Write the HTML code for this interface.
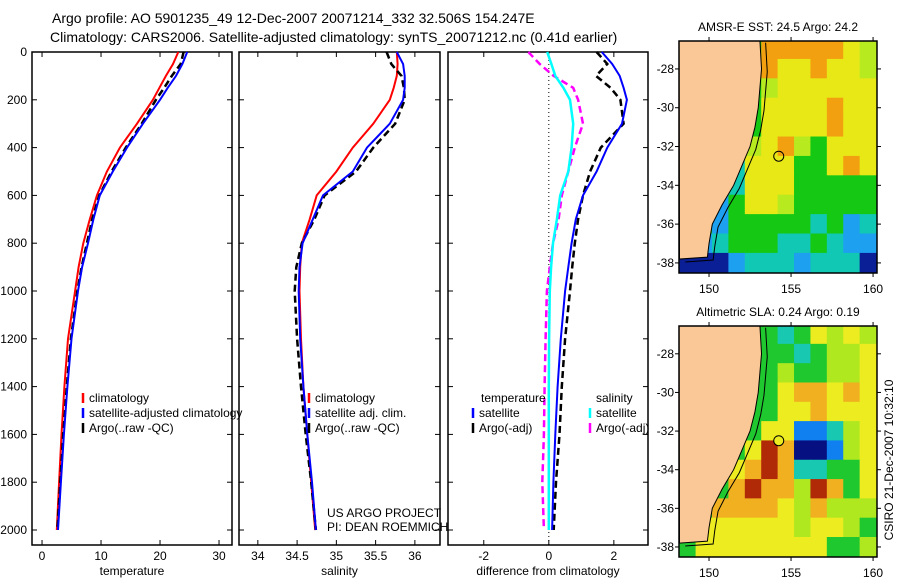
<!DOCTYPE html>
<html><head><meta charset="utf-8"><style>
body{margin:0;background:#fff}
svg{display:block;font-family:"Liberation Sans",sans-serif}
</style></head><body>
<svg id="fig" width="900" height="580" xmlns="http://www.w3.org/2000/svg">
<text x="52" y="23" font-size="14">Argo profile: AO 5901235_49 12-Dec-2007 20071214_332 32.506S 154.247E</text>
<text x="50" y="42" font-size="14">Climatology: CARS2006. Satellite-adjusted climatology: synTS_20071212.nc (0.41d earlier)</text>
<g id="plots"></g>
</svg>
<script>
// ---- data ----
const depths = [0,50,100,150,200,300,400,500,600,700,800,900,1000,1200,1400,1600,1800,2000];
const tempClim = [23.1,22.2,21.0,19.9,18.8,16.1,13.2,11.0,9.3,8.1,7.0,6.2,5.6,4.4,3.8,3.3,2.9,2.5];
const tempSat  = [24.6,23.8,22.7,21.3,20.0,17.1,14.4,12.0,9.8,8.7,7.8,6.8,6.1,5.0,4.3,3.7,3.2,2.7];
const tempArgo = [24.0,23.5,22.0,20.7,19.3,16.9,14.2,11.8,9.7,8.5,7.6,6.7,6.0,4.9,4.2,3.6,3.1,2.6];
const salClim = [35.77,35.78,35.77,35.73,35.68,35.47,35.21,35.0,34.75,34.66,34.56,34.54,34.53,34.55,34.58,34.63,34.68,34.73];
const salSat  = [35.77,35.85,35.87,35.87,35.85,35.68,35.39,35.21,34.83,34.70,34.57,34.53,34.52,34.54,34.58,34.63,34.69,34.74];
const salArgo = [35.64,35.70,35.83,35.86,35.87,35.75,35.47,35.25,34.85,34.72,34.56,34.49,34.47,34.50,34.55,34.61,34.68,34.74];
const dTempSat  = [1.63,1.95,2.18,2.3,2.4,2.25,1.8,1.47,1.05,0.83,0.7,0.6,0.5,0.37,0.27,0.2,0.14,0.1];
const dTempArgo = [1.47,1.8,1.45,1.9,2.2,2.3,1.6,1.27,1.05,0.9,0.8,0.72,0.65,0.5,0.4,0.33,0.22,0.15];
const dSalSat   = [-0.05,0.08,0.2,0.45,0.65,0.75,0.7,0.6,0.35,0.25,0.13,0.07,0.03,0.01,0,0,0,0];
const dSalArgo  = [-0.63,-0.28,0.15,0.75,0.9,1.05,0.8,0.6,0.4,0.3,0.13,0.03,-0.06,-0.1,-0.13,-0.15,-0.2,-0.15];
const depthTicks = [0,200,400,600,800,1000,1200,1400,1600,1800,2000];
const tempTicks = [0,10,20,30];
const salTicks = [34,34.5,35,35.5,36];
const salTickLabels = ["34","34.5","35","35.5","36"];
const diffTicks = [-2,0,2];
const lonTicks = [150,155,160];
const latTicks = [-28,-30,-32,-34,-36,-38];
// map grids (rows lat -26.5..-38.5, cols lon 148.2..160.2, 1 deg cells)
const sstGrid = ["gggggoooooyl","gggggoyyoyyl","ggggglyyyyyy","gggggyyyyoyy","gggggyyyyoyy","gggglyolgyyy","gggtyyyggyoy","gggtyyyggggg","ggbgyylggggg","ggbgggggtgbt","gbtgggttgtbb","nnnbtttbtttn"];
const slaGrid = ["ggggggtgylyl","gggggggtglly","gggggglgglly","ggggggyooyoy","ggggggyyoyyy","gggggyybbtly","ggggyronnbly","gggyorottggy","gggoroolrogy","ggooooylolll","gyyyyyylyylg","gyyyyyyyyggl"];
const sstColors = {o:"#f2a010",y:"#e8e817",l:"#b8ea20",g:"#14c814",t:"#10c8b4",b:"#1ea0f0",n:"#0a1e96"};
const slaColors = {o:"#f0b020",y:"#ecec20",l:"#b0e820",g:"#20c830",t:"#18c8b0",b:"#1080f0",n:"#061080",r:"#b02a08"};
const coast = [[153.1,-26.5],[153.2,-28],[153.1,-29],[153.0,-30],[152.8,-31],[152.5,-32],[152.0,-33],[151.5,-34],[150.8,-35],[150.2,-36],[150.0,-37],[149.9,-37.7],[148.2,-37.8]];
const argoPos = [154.25,-32.5];

const NS="http://www.w3.org/2000/svg";
const root=document.getElementById('plots');
function mk(tag,attrs,parent){const e=document.createElementNS(NS,tag);for(const k in attrs)e.setAttribute(k,attrs[k]);(parent||root).appendChild(e);return e;}
function txt(x,y,s,size,anchor,parent){const t=mk('text',{x:x,y:y,'font-size':size||12,'text-anchor':anchor||'start'},parent);t.textContent=s;return t;}

const yTop=52, yBot=545, dPx=0.239;
function yD(d){return yTop+d*dPx;}

function panel(name,x0,x1,xmin,xmax,ticks,labels,xlabel){
  const g=mk('g',{});
  
  
  const sx=v=>x0+(v-xmin)/(xmax-xmin)*(x1-x0);
  const fr=mk('rect',{x:x0,y:yTop,width:x1-x0,height:yBot-yTop,fill:'none',stroke:'#000','stroke-width':1.5},g);
  
  
  depthTicks.forEach(d=>{mk('line',{x1:x0,x2:x0+5,y1:yD(d),y2:yD(d),stroke:'#000'},g);mk('line',{x1:x1,x2:x1-5,y1:yD(d),y2:yD(d),stroke:'#000'},g);});
  ticks.forEach((t,i)=>{const x=sx(t);mk('line',{x1:x,x2:x,y1:yTop,y2:yTop+5,stroke:'#000'},g);mk('line',{x1:x,x2:x,y1:yBot,y2:yBot-5,stroke:'#000'},g);
    const l=txt(x,560,labels[i],12,'middle',g);});
  const xl=txt((x0+x1)/2,575,xlabel,12,'middle',g);
  
  
  return {g,sx};
}
function series(p,vals,color,name,dash,w){
  const pts=vals.map((v,i)=>p.sx(v).toFixed(1)+','+yD(depths[i]).toFixed(1)).join(' ');
  const pl=mk('polyline',{points:pts,fill:'none',stroke:color,'stroke-width':w||2,'stroke-dasharray':dash||'none'},p.g);
  
  
}
function legend(p,x,y,color,label,dash){
  mk('line',{x1:x,x2:x,y1:y-9,y2:y+1,stroke:color,'stroke-width':2.5},p.g);
  const t=txt(x+6,y,label,12,'start',p.g);
  
  
}

depthTicks.forEach(d=>{const t=txt(27,yD(d)+4,String(d),12,'end');
  
  });

const p1=panel('temperature-panel',32,232,-1.7,32.2,tempTicks,tempTicks.map(String),'temperature');
series(p1,tempClim,'#f00','temp-climatology-line');
series(p1,tempArgo,'#000','temp-argo-line','7,4',2.5);
series(p1,tempSat,'#00f','temp-satellite-line');
legend(p1,83,402,'#f00','climatology');
legend(p1,83,417,'#00f','satellite-adjusted climatology');
legend(p1,83,432,'#000','Argo(..raw -QC)');

const p2=panel('salinity-panel',239,440,33.76,36.32,salTicks,salTickLabels,'salinity');
series(p2,salClim,'#f00','sal-climatology-line');
series(p2,salArgo,'#000','sal-argo-line','7,4',2.5);
series(p2,salSat,'#00f','sal-satellite-line');
legend(p2,309,402,'#f00','climatology');
legend(p2,309,417,'#00f','satellite adj. clim.');
legend(p2,309,432,'#000','Argo(..raw -QC)');
const u1=txt(327,517,'US ARGO PROJECT',12,'start',p2.g);


const u2=txt(327,531,'PI: DEAN ROEMMICH',12,'start',p2.g);



const p3=panel('difference-panel',448,648,-3.1,3.05,diffTicks,diffTicks.map(String),'difference from climatology');
const zl=mk('line',{x1:p3.sx(0),x2:p3.sx(0),y1:yTop,y2:yBot,stroke:'#000','stroke-dasharray':'1,3'},p3.g);


series(p3,dSalArgo,'#f0f','sal-diff-argo-line','7,4',2.5);
series(p3,dTempArgo,'#000','temp-diff-argo-line','7,4',2.5);
series(p3,dSalSat,'#0ff','sal-diff-satellite-line',null,2.5);
series(p3,dTempSat,'#00f','temp-diff-satellite-line');
txt(481,402,'temperature',12,'start',p3.g);
legend(p3,473,417,'#00f','satellite');
legend(p3,473,432,'#000','Argo(-adj)');
txt(596,402,'salinity',12,'start',p3.g);
legend(p3,590,417,'#0ff','satellite');
legend(p3,590,432,'#f0f','Argo(-adj)');

function map(name,x0,x1,y0,y1,grid,colors,title,markerFill){
  const g=mk('g',{});
  
  
  const lonMin=148.17,lonMax=160.24,latTop=-26.56,latBot=-38.52;
  const sx=l=>x0+(l-lonMin)/(lonMax-lonMin)*(x1-x0);
  const sy=a=>y0+(latTop-a)/(latTop-latBot)*(y1-y0);
  const clip=mk('clipPath',{id:name+'-clip'},g);
  mk('rect',{x:x0,y:y0,width:x1-x0,height:y1-y0},clip);
  const inner=mk('g',{'clip-path':'url(#'+name+'-clip)'},g);
  grid.forEach((row,r)=>{for(let c=0;c<row.length;c++){
    const cell=mk('rect',{x:sx(148.2+c)-0.3,y:sy(-26.5-r)-0.3,width:sx(149.2+c)-sx(148.2+c)+0.6,height:sy(-27.5-r)-sy(-26.5-r)+0.6,fill:colors[row[c]]},inner);
    
    
  }});
  const lp=coast.map(p=>sx(p[0])+','+sy(p[1])).join(' ')+' '+sx(148.17)+','+sy(-26.56);
  const land=mk('polygon',{points:lp,fill:'#f9c896',stroke:'#000','stroke-width':1},inner);
  
  
  const shelf=coast.map(p=>sx(p[0]+0.35)+','+sy(p[1]-0.15)).join(' ');
  mk('polyline',{points:shelf,fill:'none',stroke:'#000','stroke-width':1},inner);
  mk('rect',{x:x0,y:y0,width:x1-x0,height:y1-y0,fill:'none',stroke:'#000','stroke-width':1.5},g);
  lonTicks.forEach(l=>{const x=sx(l);mk('line',{x1:x,x2:x,y1:y1,y2:y1+4,stroke:'#000'},g);mk('line',{x1:x,x2:x,y1:y0,y2:y0-4,stroke:'#000'},g);txt(x,y1+20,String(l),12,'middle',g);});
  latTicks.forEach(a=>{const y=sy(a);mk('line',{x1:x0,x2:x0-4,y1:y,y2:y,stroke:'#000'},g);mk('line',{x1:x1,x2:x1+4,y1:y,y2:y,stroke:'#000'},g);txt(x0-5,y+4,String(a),12,'end',g);});
  const m=mk('circle',{cx:sx(argoPos[0]),cy:sy(argoPos[1]),r:5,fill:markerFill,stroke:'#000','stroke-width':1},g);
  
  
  const t=txt((x0+x1)/2,y0-10,title,12,'middle',g);
  
  
}
map('sst-map',679,877,41,273,sstGrid,sstColors,'AMSR-E SST: 24.5 Argo: 24.2','none');
map('sla-map',679,877,326,557,slaGrid,slaColors,'Altimetric SLA: 0.24 Argo: 0.19','#ecec20');
const st=txt(0,0,'CSIRO 21-Dec-2007 10:32:10',12,'middle');
st.setAttribute('transform','translate(893,460) rotate(-90)');


</script>
</body></html>
